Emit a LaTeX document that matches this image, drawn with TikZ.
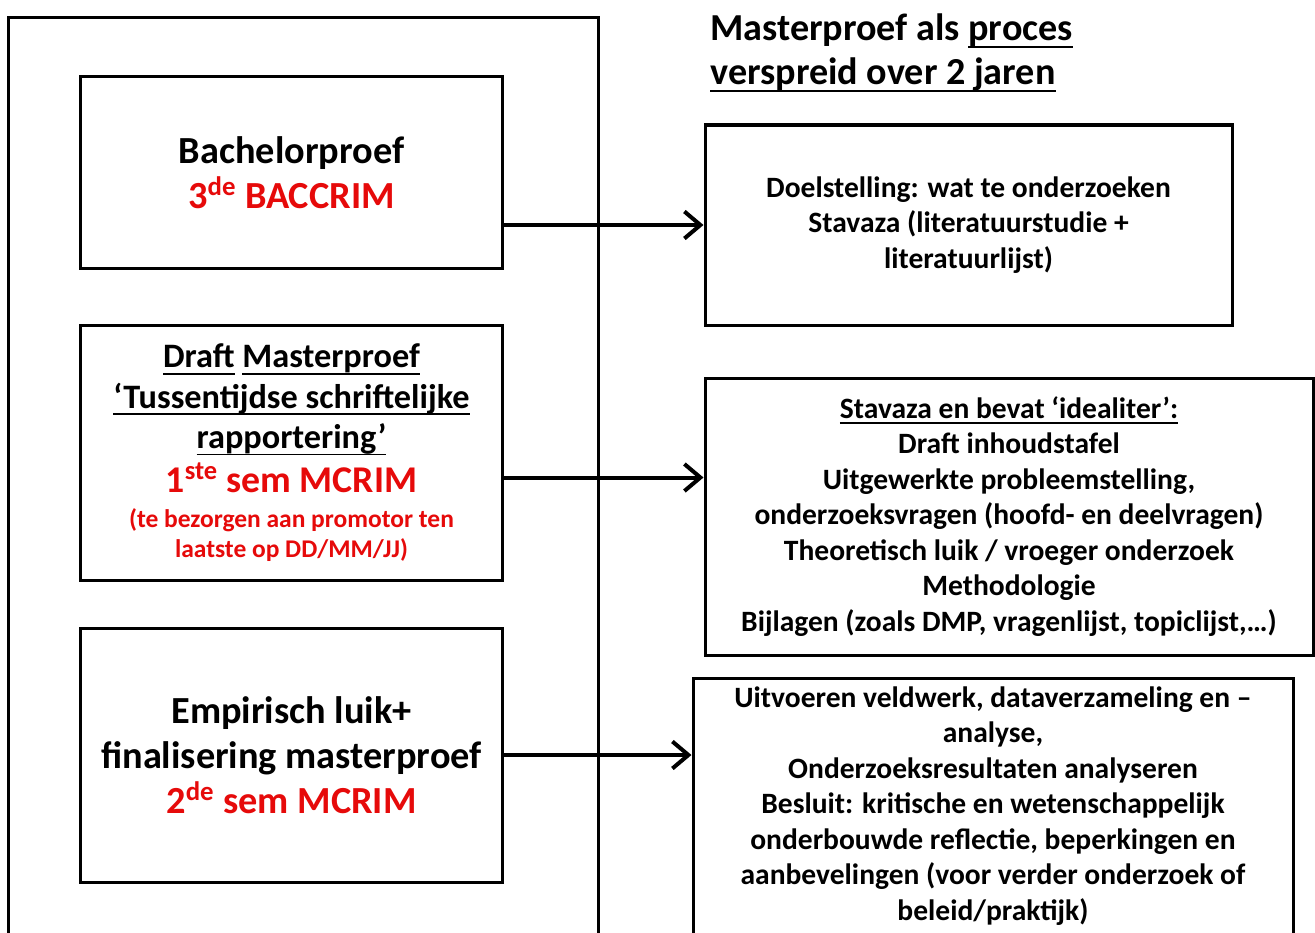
\documentclass[tikz,border=0pt]{standalone}
\usepackage{fontspec}
\setmainfont{Carlito}
\usetikzlibrary{arrows.meta}

\definecolor{rood}{RGB}{230,10,10}
\tikzstyle{fase}=[draw, line width=0.6mm, align=center, font=\bfseries\fontsize{21.8}{25.6}\selectfont, minimum width=84.2mm, inner sep=0pt]
\tikzstyle{inhoud}=[draw, line width=0.6mm, align=center, font=\bfseries\fontsize{16.8}{20.2}\selectfont, inner sep=0pt]
\tikzstyle{pijl}=[line width=0.8mm, -{Straight Barb[length=3.2mm, width=5.4mm]}]
\newcommand{\rood}[1]{\textcolor{rood}{#1}}
\newcommand{\ond}[1]{\setbox0\hbox{#1}\leavevmode\rlap{\rule[-0.2em]{\wd0}{1.1pt}}\box0\relax}

\begin{document}
\begin{tikzpicture}[x=0.2mm, y=-0.2mm]
\clip (0,0) rectangle (1315,932);
\fill[white] (0,0) rectangle (1315,932);

% kader links
\draw[line width=0.6mm] (8,17) rectangle (598,960);

\node[fase, minimum height=38.2mm] (b1) at (291.5,172.5) {Bachelorproef\\ \rood{3\textsuperscript{de} BACCRIM}};
\node[fase, minimum height=51mm, font=\bfseries\fontsize{19.5}{23}\selectfont] (b2) at (291.5,452.5) {\ond{Draft} \ond{Masterproef}\\ \ond{‘Tussentijdse schriftelijke}\\ \ond{rapportering’}\\[2pt] \fontsize{21.5}{24.5}\selectfont\rood{1\textsuperscript{ste} sem MCRIM}\\[-3.3pt] \fontsize{14.5}{17}\selectfont\rood{(te bezorgen aan promotor ten}\\[-6pt] \fontsize{14.5}{17}\selectfont\rood{laatste op DD/MM/JJ)}};
\node[fase, minimum height=50.8mm] (b3) at (291.5,755) {Empirisch luik+\\ finalisering masterproef\\ \rood{2\textsuperscript{de} sem MCRIM}};

% titel
\node[anchor=north west, align=left, inner sep=0pt, font=\bfseries\fontsize{21.7}{25.4}\selectfont] (titel) at (710,13) {Masterproef als \ond{proces}\\ \ond{verspreid over 2 jaren}};

\node[inhoud, minimum width=105.4mm, minimum height=40mm] (r1) at (968.5,225) {Doelstelling: wat te onderzoeken\\ Stavaza (literatuurstudie +\\ literatuurlijst)};
\node[inhoud, minimum width=121.6mm, minimum height=55.4mm] (r2) at (1009,516.5) {\ond{Stavaza en bevat ‘idealiter’:}\\ Draft inhoudstafel\\ Uitgewerkte probleemstelling,\\ onderzoeksvragen (hoofd- en deelvragen)\\ Theoretisch luik / vroeger onderzoek\\ Methodologie\\ Bijlagen (zoals DMP, vragenlijst, topiclijst,…)};
\node[inhoud, minimum width=120mm, minimum height=51.2mm] (r3) at (993,806) {Uitvoeren veldwerk, dataverzameling en –\\ analyse,\\ Onderzoeksresultaten analyseren\\ Besluit: kritische en wetenschappelijk\\ onderbouwde reflectie, beperkingen en\\ aanbevelingen (voor verder onderzoek of\\ beleid/praktijk)};

\draw[pijl] (r1.west -| b1.east) -- (r1.west);
\draw[pijl] ([yshift=-5mm]b2.east) coordinate (a2) -- (a2 -| r2.west);
\draw[pijl] (b3.east) -- (b3.east -| r3.west);
\end{tikzpicture}
\end{document}
